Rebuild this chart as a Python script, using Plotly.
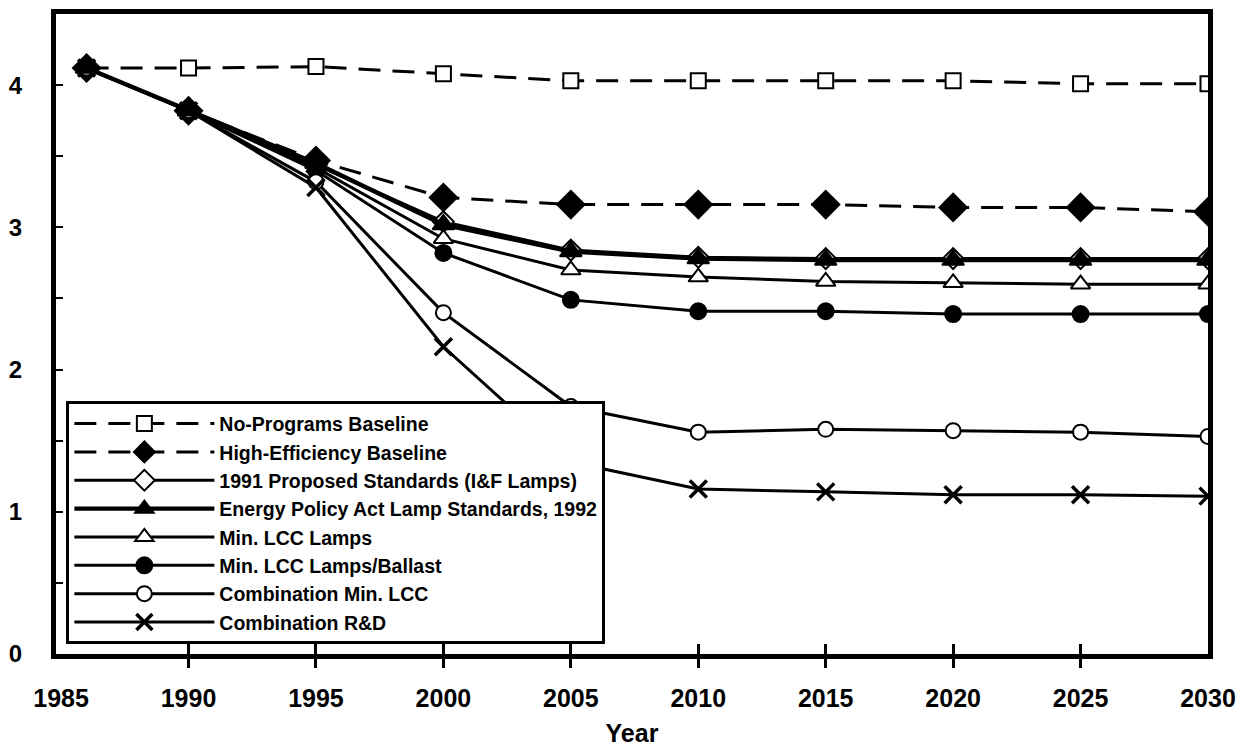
import plotly.graph_objects as go

years = [1986, 1990, 1995, 2000, 2005, 2010, 2015, 2020, 2025, 2030]

no_programs = [4.12, 4.12, 4.13, 4.08, 4.03, 4.03, 4.03, 4.03, 4.01, 4.01]
high_eff = [4.12, 3.82, 3.47, 3.21, 3.16, 3.16, 3.16, 3.14, 3.14, 3.11]
proposed_1991 = [4.12, 3.82, 3.44, 3.04, 2.84, 2.79, 2.78, 2.78, 2.78, 2.78]
epact_1992 = [4.12, 3.82, 3.45, 3.02, 2.83, 2.78, 2.77, 2.77, 2.77, 2.77]
min_lcc_lamps = [4.12, 3.82, 3.42, 2.92, 2.70, 2.65, 2.62, 2.61, 2.60, 2.60]
min_lcc_ballast = [4.12, 3.82, 3.40, 2.82, 2.49, 2.41, 2.41, 2.39, 2.39, 2.39]
comb_min_lcc = [4.12, 3.82, 3.32, 2.40, 1.74, 1.56, 1.58, 1.57, 1.56, 1.53]
comb_rd = [4.12, 3.82, 3.28, 2.16, 1.35, 1.16, 1.14, 1.12, 1.12, 1.11]

names = [
    "No-Programs Baseline",
    "High-Efficiency Baseline",
    "1991 Proposed Standards (I&F Lamps)",
    "Energy Policy Act Lamp Standards, 1992",
    "Min. LCC Lamps",
    "Min. LCC Lamps/Ballast",
    "Combination Min. LCC",
    "Combination R&D",
]

x_tick_labels = ["1985", "1990", "1995", "2000", "2005", "2010", "2015", "2020", "2025", "2030"]
x_tick_vals = [1985, 1990, 1995, 2000, 2005, 2010, 2015, 2020, 2025, 2030]
x_mark_vals = [1990, 1995, 2000, 2005, 2010, 2015, 2020, 2025]
y_tick_vals = [0, 0.5, 1, 1.5, 2, 2.5, 3, 3.5, 4]
y_tick_text = ["0", "", "1", "", "2", "", "3", "", "4"]

BLACK = "black"
DASH = "22px,12px"
SANS = "Liberation Sans, Arial, sans-serif"
X_RANGE = [1984.8, 2030]

fig = go.Figure()

def add(y, name, rank, symbol, fill, lw, dash="solid", size=14, mlw=2):
    fig.add_trace(go.Scatter(
        x=years, y=y, name=name, mode="lines+markers",
        legendrank=rank, legendgroup=name,
        line=dict(color=BLACK, width=lw, dash=dash),
        marker=dict(symbol=symbol, size=size, color=fill,
                    line=dict(color=BLACK, width=mlw)),
    ))

add(no_programs, names[0], 1, "square", "white", 3, DASH, size=15)
add(high_eff, names[1], 2, "diamond", BLACK, 3, DASH, size=21)
add(proposed_1991, names[2], 3, "diamond", "white", 3, size=16)
add(min_lcc_lamps, names[4], 5, "triangle-up", "white", 3, size=17)
add(min_lcc_ballast, names[5], 6, "circle", BLACK, 3, size=16)
add(comb_min_lcc, names[6], 7, "circle", "white", 3, size=15)
add(comb_rd, names[7], 8, "x-thin-open", BLACK, 3, size=17, mlw=3.5)
add(epact_1992, names[3], 4, "triangle-up", BLACK, 4.5, size=19)

# carriers for the extra tick-mark axes
for ax in ("x2", "x3"):
    fig.add_trace(go.Scatter(x=x_mark_vals, y=[None] * len(x_mark_vals),
                             xaxis=ax, yaxis="y", mode="lines",
                             showlegend=False, hoverinfo="skip"))

fig.update_layout(
    width=1245, height=750,
    paper_bgcolor="white", plot_bgcolor="white",
    margin=dict(l=46, r=45, t=1, b=104),
    font=dict(family=SANS, color=BLACK),
    showlegend=True,
    legend=dict(
        x=0.009, y=0.015, xanchor="left", yanchor="bottom",
        bgcolor="white", bordercolor=BLACK, borderwidth=3,
        font=dict(size=19.5, weight="bold", family=SANS, color=BLACK),
        itemwidth=140, tracegroupgap=0,
    ),
    xaxis=dict(
        range=X_RANGE, tickvals=x_tick_vals, ticktext=x_tick_labels,
        ticks="", showgrid=False, zeroline=False,
        showline=True, linecolor=BLACK, linewidth=5, mirror=True,
        tickfont=dict(size=25, weight="bold", family=SANS),
        ticklabelstandoff=18,
        title=dict(text="Year", font=dict(size=25, weight="bold", family=SANS), standoff=15),
    ),
    xaxis2=dict(
        range=X_RANGE, overlaying="x", anchor="y", side="bottom",
        tickvals=x_mark_vals, ticks="outside", ticklen=13, tickwidth=3,
        tickcolor=BLACK, showticklabels=False, showgrid=False,
        zeroline=False, showline=False,
    ),
    xaxis3=dict(
        range=X_RANGE, overlaying="x", anchor="y", side="bottom",
        tickvals=x_mark_vals, ticks="inside", ticklen=10, tickwidth=3,
        tickcolor=BLACK, showticklabels=False, showgrid=False,
        zeroline=False, showline=False,
    ),
    yaxis=dict(
        range=[0, 4.5], tickvals=y_tick_vals, ticktext=y_tick_text,
        ticks="inside", ticklen=7, tickwidth=2, tickcolor=BLACK,
        showgrid=False, zeroline=False,
        showline=True, linecolor=BLACK, linewidth=5, mirror=True,
        tickfont=dict(size=24, weight="bold", family=SANS),
        ticklabelstandoff=24,
    ),
)

fig.write_html("out.html")
